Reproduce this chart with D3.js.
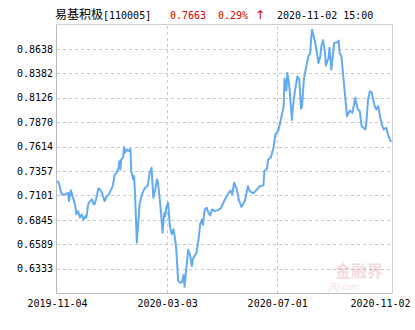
<!DOCTYPE html>
<html>
<head>
<meta charset="utf-8">
<script src="https://cdn.jsdelivr.net/npm/d3@7"></script>
<style>
    body { margin: 0; background: #fff; }
    svg { display: block; }
    text { font-family: "DejaVu Sans Mono", "Liberation Mono", monospace; font-size: 10px; }
</style>
</head>
<body>
<div class="svg-container"></div>
<script>
// Data
const startDate = "2019-11-04";
const dayOffsets = [
    0, 2, 5, 9, 12, 13, 15, 18, 20, 21,
    23, 25, 27, 29, 31, 32, 34, 36, 38, 40,
    41, 43, 45, 47, 49, 50, 52, 54, 56, 58,
    60, 61, 63, 65, 67, 68, 69, 70, 72, 73,
    74, 76, 78, 80, 81, 83, 84, 85, 87, 89,
    90, 92, 94, 96, 98, 99, 101, 103, 105, 107,
    109, 110, 112, 114, 115, 117, 118, 119, 121, 123,
    125, 127, 129, 130, 132, 134, 136, 138, 139, 141,
    143, 145, 147, 148, 152, 154, 156, 158, 159, 161,
    163, 165, 167, 169, 172, 176, 179, 183, 186, 189,
    191, 193, 196, 198, 201, 205, 208, 210, 214, 218,
    221, 225, 226, 229, 230, 233, 236, 238, 241, 244,
    247, 248, 250, 251, 253, 256, 257, 259, 262, 264,
    266, 267, 269, 270, 272, 274, 276, 277, 278, 281,
    283, 285, 287, 288, 290, 292, 293, 296, 297, 299,
    302, 305, 307, 308, 310, 312, 314, 316, 317, 319,
    322, 325, 326, 328, 330, 332, 334, 336, 337, 339,
    341, 343, 345, 346, 348, 350, 352, 354, 356, 359,
    361, 364
];
const navValues = [
    0.7251, 0.7234, 0.7111, 0.7111, 0.7129, 0.7041, 0.7156, 0.7059, 0.6989, 0.6902,
    0.6936, 0.6867, 0.6902, 0.6844, 0.6884, 0.6867, 0.7007, 0.7041, 0.7059, 0.7007,
    0.7007, 0.7077, 0.7174, 0.7164, 0.7129, 0.7094, 0.7041, 0.7094, 0.7101, 0.7143,
    0.7182, 0.7216, 0.7321, 0.7339, 0.7391, 0.7460, 0.7373, 0.7478, 0.7496, 0.7609,
    0.7548, 0.7583, 0.7565, 0.7588, 0.7355, 0.7269, 0.7303, 0.7129, 0.6608, 0.6867,
    0.7007, 0.7094, 0.7146, 0.7182, 0.7198, 0.7206, 0.7339, 0.7391, 0.7077, 0.7164,
    0.7269, 0.7234, 0.7059, 0.6849, 0.6710, 0.6920, 0.6884, 0.6972, 0.7024, 0.6779,
    0.6692, 0.6745, 0.6622, 0.6535, 0.6210, 0.6186, 0.6186, 0.6268, 0.6142, 0.6346,
    0.6530, 0.6477, 0.6360, 0.6430, 0.6500, 0.6619, 0.6797, 0.6849, 0.6792, 0.6954,
    0.6972, 0.6920, 0.6891, 0.6954, 0.6936, 0.6949, 0.6972, 0.7059, 0.7111, 0.7153,
    0.7111, 0.7234, 0.7164, 0.7059, 0.6980, 0.7049, 0.7198, 0.7146, 0.7122, 0.7164,
    0.7198, 0.7206, 0.7355, 0.7384, 0.7478, 0.7499, 0.7604, 0.7740, 0.7775, 0.7897,
    0.8037, 0.8327, 0.8201, 0.8387, 0.8264, 0.7892, 0.8020, 0.8180, 0.8348, 0.8316,
    0.8012, 0.8033, 0.8316, 0.8369, 0.8473, 0.8560, 0.8596, 0.8753, 0.8840, 0.8718,
    0.8613, 0.8491, 0.8560, 0.8665, 0.8730, 0.8610, 0.8463, 0.8547, 0.8649, 0.8421,
    0.8701, 0.8704, 0.8725, 0.8596, 0.8560, 0.8351, 0.8141, 0.7932, 0.7950, 0.7992,
    0.7967, 0.8125, 0.8075, 0.8002, 0.7984, 0.7827, 0.7810, 0.7793, 0.7845, 0.8107,
    0.8194, 0.8180, 0.8089, 0.8044, 0.8002, 0.8037, 0.7932, 0.7845, 0.7793, 0.7810,
    0.7730, 0.7663
];
const yTickValues = [0.6333, 0.6589, 0.6845, 0.7101, 0.7357, 0.7614, 0.7870, 0.8126, 0.8382, 0.8638];
const yDomain = [0.6077, 0.8894];
const xTickLabels = ["2019-11-04", "2020-03-03", "2020-07-01", "2020-11-02"];
const fundName = "易基积极";
const fundCode = "[110005]";
const latestNav = "0.7663";
const latestChange = "0.29%";
const changeArrow = "↑";
const latestTime = "2020-11-02 15:00";

// Layout
const canvasWidth = 415;
const canvasHeight = 330;
const plot = { left: 57, right: 391, top: 24.5, bottom: 293 };

const parseDate = d3.timeParse("%Y-%m-%d");
const start = parseDate(startDate);
const dataSet = dayOffsets.map((d, i) => ({ date: d3.timeDay.offset(start, d), value: navValues[i] }));
const tickDates = xTickLabels.map(parseDate);

const xScale = d3.scaleTime()
    .domain([tickDates[0], tickDates[tickDates.length - 1]])
    .range([plot.left, plot.right]);
const yScale = d3.scaleLinear().domain(yDomain).range([plot.bottom, plot.top]);

const svg = d3.select(".svg-container")
    .append("svg")
    .attr("width", canvasWidth)
    .attr("height", canvasHeight);

// Frame
svg.append("rect")
    .attr("x", plot.left - 0.5)
    .attr("y", plot.top)
    .attr("width", plot.right + 1.5 - plot.left)
    .attr("height", plot.bottom - plot.top)
    .attr("fill", "none")
    .attr("stroke", "#d0d0d0")
    .attr("shape-rendering", "crispEdges");

// Horizontal grid + y labels
const yAxis = d3.axisLeft(yScale)
    .tickValues(yTickValues)
    .tickSize(-(plot.right + 1 - plot.left))
    .tickPadding(4)
    .tickFormat(d3.format(".4f"));
svg.append("g")
    .attr("transform", `translate(${plot.left}, 0)`)
    .call(yAxis)
    .call((g) => g.select(".domain").remove())
    .call((g) => g.selectAll(".tick line")
        .attr("stroke", "#c8c8c8")
        .attr("stroke-dasharray", "3,3")
        .attr("shape-rendering", "crispEdges"))
    .call((g) => g.selectAll(".tick text")
        .attr("fill", "#000")
        .style("font-size", "10px")
        .style("font-family", "'DejaVu Sans Mono', monospace"));

// Vertical grid + x labels
const xAxis = d3.axisBottom(xScale)
    .tickValues(tickDates)
    .tickSize(-(plot.bottom - plot.top))
    .tickPadding(7)
    .tickFormat(d3.timeFormat("%Y-%m-%d"));
svg.append("g")
    .attr("transform", `translate(0, ${plot.bottom})`)
    .call(xAxis)
    .call((g) => g.select(".domain").remove())
    .call((g) => g.selectAll(".tick line")
        .attr("stroke", (d, i) => (i === 0 || i === tickDates.length - 1) ? "none" : "#c8c8c8")
        .attr("stroke-dasharray", "3,3")
        .attr("shape-rendering", "crispEdges"))
    .call((g) => g.selectAll(".tick text")
        .attr("fill", "#000")
        .attr("dx", (d) => {
            const x = xScale(d);
            const half = 30;
            return Math.min(0, canvasWidth - 5 - half - x);
        })
        .style("font-size", "10px")
        .style("font-family", "'DejaVu Sans Mono', monospace"));

// Left and bottom axis lines
svg.append("line")
    .attr("x1", plot.left - 0.5).attr("x2", plot.left - 0.5)
    .attr("y1", plot.top).attr("y2", plot.bottom)
    .attr("stroke", "#bbb")
    .attr("shape-rendering", "crispEdges");
svg.append("line")
    .attr("x1", plot.left - 0.5).attr("x2", plot.right + 1)
    .attr("y1", plot.bottom).attr("y2", plot.bottom)
    .attr("stroke", "#bbb")
    .attr("shape-rendering", "crispEdges");

// Watermark
const mark = svg.append("g").attr("opacity", 0.18);
mark.append("text")
    .attr("x", plot.right - 8)
    .attr("y", plot.bottom - 16)
    .attr("text-anchor", "end")
    .style("font-family", "'Noto Sans CJK SC', sans-serif")
    .style("font-size", "16px")
    .style("font-weight", "bold")
    .attr("fill", "#c83c3c")
    .text("金融界");
mark.append("text")
    .attr("x", plot.right - 62)
    .attr("y", plot.bottom - 3)
    .style("font-family", "'DejaVu Sans', sans-serif")
    .style("font-size", "8px")
    .style("font-style", "italic")
    .attr("fill", "#c83c3c")
    .text("JRJ.com");

// NAV line
const line = d3.line()
    .x((d) => xScale(d.date))
    .y((d) => yScale(d.value));
svg.append("path")
    .datum(dataSet)
    .attr("d", line)
    .attr("fill", "none")
    .attr("stroke", "#62aaf2")
    .attr("stroke-width", 2)
    .attr("stroke-linejoin", "round");

// Title
const title = svg.append("text")
    .attr("x", 55)
    .attr("y", 19);
title.append("tspan")
    .style("font-family", "'Noto Sans CJK SC', sans-serif")
    .style("font-size", "12px")
    .attr("fill", "#000")
    .text(fundName);
title.append("tspan")
    .attr("fill", "#000")
    .text(fundCode);
title.append("tspan")
    .attr("x", 170)
    .attr("fill", "#d40000")
    .text(latestNav);
title.append("tspan")
    .attr("x", 218)
    .attr("fill", "#d40000")
    .text(latestChange);
title.append("tspan")
    .attr("x", 255)
    .style("font-family", "'DejaVu Sans', sans-serif")
    .style("font-size", "12px")
    .attr("fill", "#d40000")
    .text(changeArrow);
title.append("tspan")
    .attr("x", 277)
    .attr("fill", "#000")
    .text(latestTime);
</script>
</body>
</html>
